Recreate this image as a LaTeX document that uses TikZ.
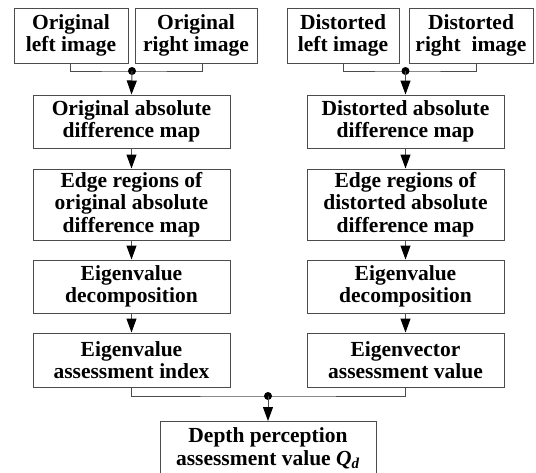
\documentclass[tikz,border=0pt]{standalone}
\usepackage{fontspec}
\setmainfont{Liberation Serif}
\usetikzlibrary{arrows.meta}
\tikzset{
  box/.style={draw=black!70, line width=1pt, align=center, inner sep=0pt,
    font=\fontsize{21.5}{22.5}\selectfont\bfseries},
  link/.style={draw=black!70, line width=1pt},
  arr/.style={link, -{Triangle[length=14pt,width=10pt,color=black]}},
  jdot/.style={circle, fill=black, inner sep=0pt, minimum size=8pt}
}
\begin{document}
\begin{tikzpicture}[x=1pt,y=-1pt]
\useasboundingbox (0,0) rectangle (536,472);
% top row
\node[box, minimum width=114, minimum height=55] (OL) at (71,35.5) {Original\\left image};
\node[box, minimum width=122, minimum height=55] (OR) at (196,35.5) {Original\\right image};
\node[box, minimum width=112, minimum height=55] (DL) at (343,35.5) {Distorted\\left image};
\node[box, minimum width=124, minimum height=55] (DR) at (471,35.5) {Distorted\\right\ \ image};
% left column
\node[box, minimum width=197, minimum height=53] (A1) at (131.5,121.5) {Original absolute\\difference map};
\node[box, minimum width=197, minimum height=71] (A2) at (131.5,204.5) {Edge regions of\\original absolute\\difference map};
\node[box, minimum width=197, minimum height=53] (A3) at (131.5,286.5) {Eigenvalue\\decomposition};
\node[box, minimum width=197, minimum height=54] (A4) at (131.5,360) {Eigenvalue\\assessment index};
% right column
\node[box, minimum width=197, minimum height=53] (B1) at (405.5,121.5) {Distorted absolute\\difference map};
\node[box, minimum width=197, minimum height=71] (B2) at (405.5,204.5) {Edge regions of\\distorted absolute\\difference map};
\node[box, minimum width=197, minimum height=53] (B3) at (405.5,286.5) {Eigenvalue\\decomposition};
\node[box, minimum width=197, minimum height=54] (B4) at (405.5,360) {Eigenvector\\assessment value};
% final
\node[box, minimum width=216, minimum height=54, anchor=north] (Q) at (268,421) {Depth perception\\assessment value \textit{Q}\textsubscript{\textit{d}}};
% junctions
\coordinate (jA) at (132,71);
\coordinate (jB) at (405.5,71);
\coordinate (jQ) at (268,396);
\draw[link] ([xshift=-1pt]OL.south) |- (jA) -| ([xshift=6pt]OR.south);
\draw[link] (DL.south) |- (jB) -| ([xshift=5pt]DR.south);
\draw[link] (A4.south) |- (jQ) -| (B4.south);
\node[jdot] (dA) at (jA) {};
\node[jdot] (dB) at (jB) {};
\node[jdot] (dQ) at (jQ) {};
\draw[arr] (dA.center) -- (A1.north);
\draw[arr] (dB.center) -- (B1.north);
\draw[arr] (dQ.center) -- (Q.north);
\draw[arr] (A1) -- (A2);
\draw[arr] (A2) -- (A3);
\draw[arr] (A3) -- (A4);
\draw[arr] (B1) -- (B2);
\draw[arr] (B2) -- (B3);
\draw[arr] (B3) -- (B4);
\end{tikzpicture}
\end{document}
